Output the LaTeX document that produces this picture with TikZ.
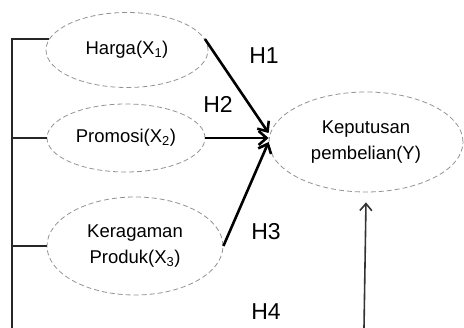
\documentclass[tikz,border=0pt]{standalone}
\usepackage{fontspec}
\setmainfont{Liberation Sans}
\usetikzlibrary{arrows.meta,positioning,shapes.geometric}

\begin{document}
\begin{tikzpicture}[x=1pt, y=-1pt,
  var/.style={ellipse, draw=gray!85, dash pattern=on 5pt off 3pt, line width=0.8pt, inner sep=0pt, align=center, font=\fontsize{18.5}{26}\selectfont},
  hypo/.style={font=\fontsize{23}{27}\selectfont},
  arrow/.style={-{Straight Barb[length=8pt,width=14pt]}, line width=2.6pt},
  link/.style={draw=black!85, line width=1.6pt}
]
\useasboundingbox (0,0) rectangle (464,328);
\node[var, minimum width=162pt, minimum height=75pt] (harga) at (127,50) {Harga(X\textsubscript{1})};
\node[var, minimum width=158pt, minimum height=68pt] (promosi) at (126,138) {Promosi(X\textsubscript{2})};
\node[var, minimum width=176pt, minimum height=98pt] (ragam) at (135,246) {Keragaman\\Produk(X\textsubscript{3})};
\node[var, minimum width=194pt, minimum height=100pt] (keputusan) at (366,142) {Keputusan\\pembelian(Y)};
\coordinate (corner) at (12,328);
\coordinate (base) at (364,328);

\node[hypo] (h1) at (264,56) {H1};
\node[hypo] (h2) at (218,104) {H2};
\node[hypo] (h3) at (266,232) {H3};
\node[hypo] (h4) at (266,312) {H4};

\draw[link] (harga.172) -| (corner);
\draw[link] (promosi.west) -- (promosi.west -| corner);
\draw[link] (ragam.west) -- (ragam.west -| corner);

\draw[arrow] (harga.8) -- ([yshift=9pt]keputusan.west);
\draw[arrow] (promosi.east) -- ([yshift=4pt]keputusan.west);
\draw[arrow] (ragam.east) -- (keputusan.west);
\draw[-{Straight Barb[length=7pt,width=12pt]}, draw=black!80, line width=1.6pt] (base) -- ([yshift=-10pt]keputusan.south);
\end{tikzpicture}
\end{document}
